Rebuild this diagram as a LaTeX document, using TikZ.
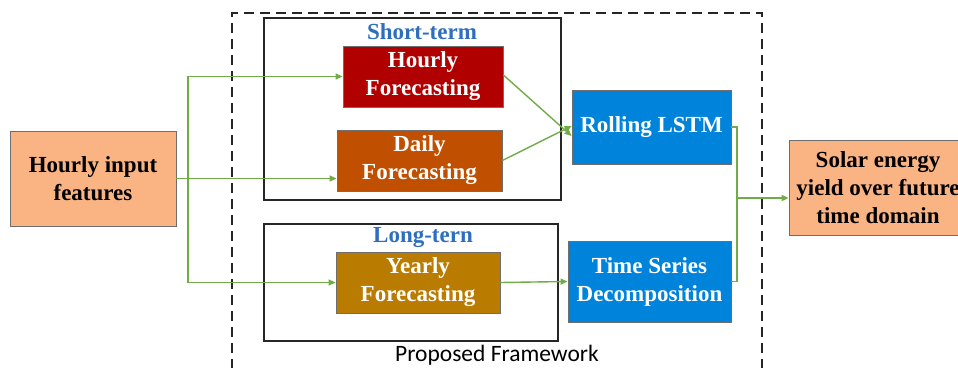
\documentclass[tikz,border=0pt]{standalone}
\usepackage{fontspec}
\setmainfont{Liberation Serif}
\newfontfamily\framefont{Carlito}
\usetikzlibrary{arrows.meta,calc}

\definecolor{inorange}{RGB}{250,180,132}
\definecolor{hourred}{RGB}{176,0,0}
\definecolor{dayorange}{RGB}{192,80,0}
\definecolor{yeargold}{RGB}{186,124,0}
\definecolor{procblue}{RGB}{0,131,219}
\definecolor{labelblue}{RGB}{46,110,190}
\definecolor{linkgreen}{RGB}{112,173,71}
\definecolor{edgegray}{RGB}{110,110,110}

\tikzset{
  txt/.style={font=\fontsize{23}{28}\selectfont\bfseries, align=center, inner sep=0pt},
  ioblock/.style={txt, draw=edgegray, line width=0.8pt, fill=inorange, text=black},
  fcblock/.style={txt, draw=edgegray, line width=0.8pt, text=white},
  procblock/.style={txt, draw=edgegray, line width=0.8pt, fill=procblue, text=white},
  groupbox/.style={draw=black!85, line width=1.4pt},
  grouplabel/.style={txt, text=labelblue},
  link/.style={draw=linkgreen, line width=1.4pt, -{Triangle[length=7pt,width=6pt]}},
  plainlink/.style={draw=linkgreen, line width=1.4pt},
}

\begin{document}
\begin{tikzpicture}[x=1pt,y=-1pt]
\useasboundingbox (0,0) rectangle (958,367);
\clip (0,0) rectangle (958,367);

% framework outline and the two horizon groups
\draw[black!85, line width=1.4pt, dash pattern=on 10pt off 6pt] (232,385) -- (232,13) -- (762,13) -- (762,385);
\draw[groupbox] (264,18) rectangle (561,200);
\draw[groupbox] (264,224) rectangle (558,341);
\node[grouplabel] (stlabel) at (422,32) {Short-term};
\node[grouplabel] (ltlabel) at (423,238) {Long-tern};
\node[font=\framefont\fontsize{23.5}{26}\selectfont, inner sep=0pt] (fwlabel) at (497,355) {Proposed Framework};

% blocks
\node[ioblock, minimum width=166pt, minimum height=95pt] (input) at (93,178.5) {Hourly input\\features};
\node[fcblock, fill=hourred, minimum width=160pt, minimum height=61pt] (hourly) at (423,76.5) {Hourly\\Forecasting};
\node[fcblock, fill=dayorange, minimum width=165pt, minimum height=61pt] (daily) at (419.5,160.5) {Daily\\Forecasting};
\node[fcblock, fill=yeargold, minimum width=164pt, minimum height=61pt] (yearly) at (418,282.5) {Yearly\\Forecasting};
\node[procblock, minimum width=159pt, minimum height=74pt] (lstm) at (651.5,127) {Rolling LSTM};
\node[procblock, minimum width=163pt, minimum height=81pt] (tsd) at (649.5,281.5) {Time Series\\Decomposition};
\node[ioblock, minimum width=178pt, minimum height=95pt] (solar) at (878,187.5) {Solar energy\\yield over future\\time domain};

% input fan-out
\coordinate (split) at (188,0);
\draw[link] (input.east) -- (input.east -| daily.west);
\draw[link] (split |- input.east) |- (hourly.west);
\draw[link] (split |- input.east) |- (yearly.west);

% forecasts into processing
\draw[link] ([yshift=1.5pt]hourly.east) -- ([yshift=-9pt]lstm.west);
\draw[link] (daily.east) -- ([yshift=1pt]lstm.west);
\draw[link] (yearly.east) -- (tsd.west);

% merge into output
\coordinate (merge) at (737,198);
\draw[plainlink] (lstm.east) -| (merge);
\draw[plainlink] (tsd.east) -| (merge);
\draw[link, line width=2pt] (merge) -- (merge -| solar.west);
\end{tikzpicture}
\end{document}
